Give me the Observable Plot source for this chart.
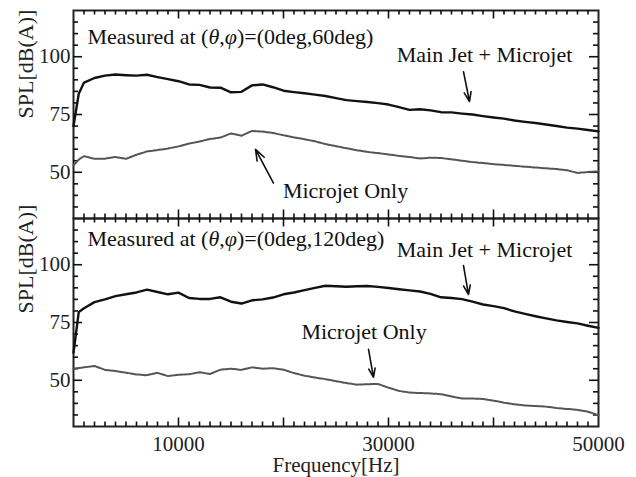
<!DOCTYPE html>
<html><head><meta charset="utf-8">
<script src="https://cdn.jsdelivr.net/npm/d3@7"></script>
<script src="https://cdn.jsdelivr.net/npm/@observablehq/plot@0.6"></script>
<style>body{margin:0;background:#fff} #chart{width:636px;height:477px}</style>
</head><body><div id="chart"></div>
<script>
const freq = [0,500,1000,2000,3000,4000,5000,6000,7000,8000,9000,10000,11000,12000,13000,14000,15000,16000,17000,18000,19000,20000,21000,22000,23000,24000,25000,26000,27000,28000,29000,30000,31000,32000,33000,34000,35000,36000,37000,38000,39000,40000,41000,42000,43000,44000,45000,46000,47000,48000,49000,50000];
const panels = ["(0deg,60deg)", "(0deg,120deg)"];
const mainJet60 = [70,84,88.8,90.8,91.8,92.3,92.0,91.8,92.2,91.2,90.3,89.4,88.0,87.8,86.7,86.6,84.6,84.8,87.6,88.0,86.8,85.3,84.7,84.2,83.6,83.0,82.1,81.2,80.8,80.4,79.9,79.3,78.2,77.0,77.3,76.8,76.0,75.9,75.4,75.0,74.3,73.7,73.2,72.4,71.8,71.3,70.7,70.0,69.3,68.9,68.3,67.7];
const microJet60 = [53,55.5,57.0,55.8,55.9,56.6,55.8,57.6,59.0,59.6,60.3,61.2,62.4,63.3,64.4,65.0,66.8,65.8,67.9,67.6,67.0,66.0,65.1,64.3,63.4,62.2,61.3,60.4,59.5,58.8,58.3,57.7,57.1,56.6,56.0,56.3,56.2,55.6,55.0,54.4,54.0,53.5,53.2,52.8,52.4,52.1,51.7,51.4,50.9,49.7,50.1,50.4];
const mainJet120 = [62,79.5,81.2,83.8,85.0,86.4,87.2,88.0,89.2,88.2,87.2,87.9,85.6,85.2,85.2,85.9,84.0,83.2,84.6,85.0,85.8,87.2,88.0,89.0,90.0,90.9,90.7,90.5,90.7,90.8,90.4,89.9,89.4,88.9,88.4,87.4,85.9,85.6,85.1,84.0,82.8,82.1,81.2,79.8,78.7,77.7,76.8,75.9,75.2,74.6,73.6,72.7];
const microJet120 = [55,55.3,55.6,56.2,54.5,54.0,53.3,52.5,52.2,53.2,51.8,52.4,52.6,53.5,52.7,54.6,55.0,54.5,55.6,55.0,55.2,54.6,53.1,52.0,51.2,50.5,49.6,48.8,48.1,48.3,48.4,46.8,45.4,44.7,44.5,44.3,44.0,43.0,42.1,42.1,41.9,41.2,40.3,39.6,39.1,38.9,38.6,38.0,37.6,37.2,36.4,34.9];

const yTickLabels = [50, 75, 100];
const yMajorTicks = [50, 75, 100];
const yMinorTicks = [35,40,45,55,60,65,70,80,85,90,95,105,110,115];
const xTickLabels = [10000, 30000, 50000];
const xMajorTicks = [10000,20000,30000,40000];
const xMinorTicks = [1000,2000,3000,4000,5000,6000,7000,8000,9000,11000,12000,13000,14000,15000,16000,17000,18000,19000,21000,22000,23000,24000,25000,26000,27000,28000,29000,31000,32000,33000,34000,35000,36000,37000,38000,39000,41000,42000,43000,44000,45000,46000,47000,48000,49000];
const yLabel = "SPL[dB(A)]";
const yLabelPos = [73.3, 78.9];

const noteText = ["Measured at (θ,φ)=(0deg,60deg)", "Main Jet + Microjet", "Microjet Only",
                  "Measured at (θ,φ)=(0deg,120deg)", "Main Jet + Microjet", "Microjet Only"];
const notePanel = [panels[0], panels[0], panels[0], panels[1], panels[1], panels[1]];
const noteX = [1333, 39143, 25905, 1333, 39143, 27667];
const noteY = [108.6, 100.9, 41.8, 111.2, 106.5, 71.1];
const noteAnchor = ["start", "middle", "middle", "start", "middle", "middle"];

const arrowPanel = [panels[0], panels[0], panels[1], panels[1]];
const arrowX1 = [37143, 19048, 37143, 28095];
const arrowY1 = [93.5, 45.3, 99.6, 63.4];
const arrowX2 = [37714, 17333, 37619, 28571];
const arrowY2 = [80.6, 59.9, 87.1, 51.3];

const rows = [];
freq.forEach((f, i) => {
  rows.push({f, v: mainJet60[i], s: "main", p: panels[0]});
  rows.push({f, v: microJet60[i], s: "micro", p: panels[0]});
  rows.push({f, v: mainJet120[i], s: "main", p: panels[1]});
  rows.push({f, v: microJet120[i], s: "micro", p: panels[1]});
});
const notes = noteText.map((t, i) => ({t, p: notePanel[i], x: noteX[i], y: noteY[i], a: noteAnchor[i]}));
const arrows = arrowPanel.map((p, i) => ({p, x1: arrowX1[i], y1: arrowY1[i], x2: arrowX2[i], y2: arrowY2[i]}));
const ylabels = panels.map((p, i) => ({p, y: yLabelPos[i]}));
// tick rows carry an explicit panel so they are drawn in every facet
const perPanel = vals => panels.flatMap(p => vals.map(v => ({p, v})));

// layout
const W = 636, H = 477, mL = 73, mR = 38, mT = 9, mB = 51;
const innerW = W - mL - mR;
const facetH = (H - mT - mB) / panels.length;

// inward ticks on all four sides of each panel
const tk = {stroke: "#111", strokeWidth: 1.6};
const yTicks = (vals, len) => [
  Plot.tickY(perPanel(vals), {...tk, y: "v", fy: "p", insetRight: innerW - len}),
  Plot.tickY(perPanel(vals), {...tk, y: "v", fy: "p", insetLeft: innerW - len})
];
const xTicks = (vals, len) => [
  Plot.tickX(perPanel(vals), {...tk, x: "v", fy: "p", insetTop: facetH - len}),
  Plot.tickX(perPanel(vals), {...tk, x: "v", fy: "p", insetBottom: facetH - len})
];

const chart = Plot.plot({
  width: W, height: H,
  marginTop: mT, marginBottom: mB, marginLeft: mL, marginRight: mR,
  style: {fontFamily: "'Liberation Serif', 'Times New Roman', serif", fontSize: "21px", color: "#222", background: "#fff"},
  x: {domain: [0, 50000]},
  y: {domain: [30, 120]},
  fy: {domain: panels, padding: 0, axis: null},
  marks: [
    Plot.frame({stroke: "#222", strokeWidth: 2}),
    ...yTicks(yMinorTicks, 5),
    ...yTicks(yMajorTicks, 9),
    ...xTicks(xMinorTicks, 5),
    ...xTicks(xMajorTicks, 9),
    Plot.axisY(yTickLabels, {anchor: "left", tickSize: 0, tickPadding: 3, fontSize: 21, fill: "#222", label: null}),
    Plot.axisX(xTickLabels, {anchor: "bottom", tickSize: 0, tickPadding: 10, fontSize: 21, fill: "#222",
      tickFormat: d => String(d), label: "Frequency[Hz]", labelAnchor: "center", labelOffset: 45, labelArrow: "none"}),
    Plot.text(ylabels, {y: "y", fy: "p", text: () => yLabel, frameAnchor: "left", rotate: -90, dx: -48, fontSize: 22, fill: "#222"}),
    Plot.line(rows.filter(d => d.s === "micro"), {x: "f", y: "v", fy: "p", stroke: "#555", strokeWidth: 2, strokeDasharray: "3.5,1.2"}),
    Plot.line(rows.filter(d => d.s === "main"), {x: "f", y: "v", fy: "p", stroke: "#111", strokeWidth: 2.4}),
    Plot.text(notes.filter(d => d.a === "start"), {x: "x", y: "y", fy: "p", text: "t", textAnchor: "start", lineAnchor: "middle", fontSize: 22, fill: "#111"}),
    Plot.text(notes.filter(d => d.a === "middle"), {x: "x", y: "y", fy: "p", text: "t", textAnchor: "middle", lineAnchor: "middle", fontSize: 22, fill: "#111"}),
    Plot.arrow(arrows, {x1: "x1", y1: "y1", x2: "x2", y2: "y2", fy: "p", stroke: "#111", strokeWidth: 1.6, headLength: 11, headAngle: 40})
  ]
});
document.getElementById("chart").appendChild(chart);

// italicize θ and φ
const NS = "http://www.w3.org/2000/svg";
chart.querySelectorAll("text").forEach(el => {
  const s = el.textContent;
  if (!s.includes("θ")) return;
  const target = el.querySelector("tspan") || el;
  target.textContent = "";
  s.split(/([θφ])/).forEach(part => {
    if (!part) return;
    const ts = document.createElementNS(NS, "tspan");
    ts.textContent = part;
    if (part === "θ" || part === "φ") ts.setAttribute("font-style", "italic");
    target.appendChild(ts);
  });
});
</script>
</body></html>
